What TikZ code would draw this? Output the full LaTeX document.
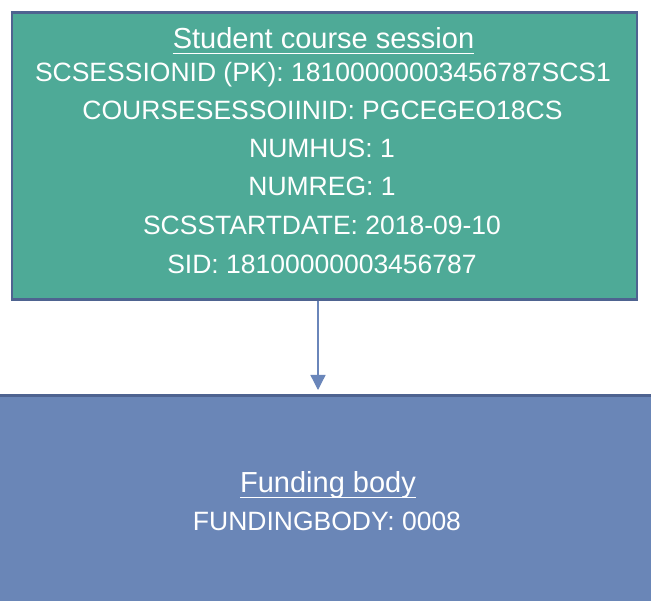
\documentclass[tikz,border=0pt]{standalone}
\usepackage{fontspec}
\setmainfont{Liberation Sans}
\usetikzlibrary{arrows.meta}
\definecolor{tealfill}{HTML}{4EAA97}
\definecolor{bluefill}{HTML}{6A86B7}
\definecolor{edgeblue}{HTML}{4E6390}
\definecolor{arrowblue}{HTML}{6A86BA}
\tikzset{
  entity/.style={draw=edgeblue, line width=2.2pt, inner sep=0pt},
  txt/.style={text=white, font=\fontsize{26.5}{30}\selectfont, inner sep=0pt, anchor=base},
  ttl/.style={txt, font=\fontsize{29}{33}\selectfont},
  uline/.style={draw=white, line width=1.4pt},
  link/.style={draw=arrowblue, line width=1.3pt, -{Triangle[length=15pt,width=15pt]}}
}
\begin{document}
\begin{tikzpicture}[x=1pt,y=-1pt]
\useasboundingbox (0,0) rectangle (651,601);
\fill[white] (0,0) rectangle (651,601);
% bottom box (extends past page edges)
\node[entity, fill=bluefill, minimum width=660pt, minimum height=215pt, anchor=north west] (fund) at (-5,394.5) {};
% top box
\node[entity, fill=tealfill, minimum width=625pt, minimum height=287pt, anchor=north west] (scs) at (11,11.5) {};
\node[ttl] (t0) at (323.5,49) {Student course session};
\draw[uline] ([yshift=-4.5pt]t0.base west) -- ([yshift=-4.5pt]t0.base east);
\node[txt] (t1) at (323,82) {SCSESSIONID (PK): 18100000003456787SCS1};
\node[txt] (t2) at (322.5,120) {COURSESESSOIINID: PGCEGEO18CS};
\node[txt] (t3) at (322,158) {NUMHUS: 1};
\node[txt] (t4) at (322,196) {NUMREG: 1};
\node[txt] (t5) at (322,235) {SCSSTARTDATE: 2018-09-10};
\node[txt] (t6) at (322,274) {SID: 18100000003456787};
\node[ttl] (f0) at (328,493) {Funding body};
\draw[uline] ([yshift=-4.5pt]f0.base west) -- ([yshift=-4.5pt]f0.base east);
\node[txt] (f1) at (327,530) {FUNDINGBODY: 0008};
\coordinate (tip) at (318,390);
\draw[link] (scs.south -| tip) -- (tip);
\end{tikzpicture}
\end{document}
